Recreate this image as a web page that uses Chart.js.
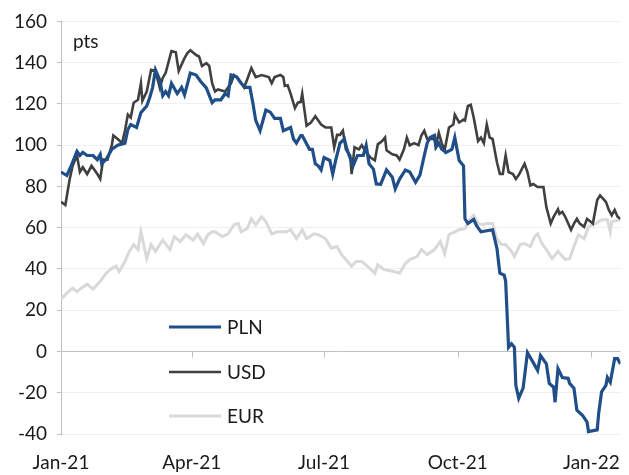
<!DOCTYPE html>
<html>
<head>
<meta charset="utf-8">
<script src="https://cdn.jsdelivr.net/npm/chart.js@4/dist/chart.umd.min.js"></script>
<style>
  html, body { margin: 0; padding: 0; background: #fff; }
  #wrap { width: 629px; height: 475px; position: relative; }
</style>
</head>
<body>
<div id="wrap"><canvas id="chart"></canvas></div>
<script>
// x = days since 1 Jan 2021
const tickDays = [0, 90, 181, 273, 365];
const tickLabels = ['Jan-21', 'Apr-21', 'Jul-21', 'Oct-21', 'Jan-22'];

const seriesNames = ['PLN', 'USD', 'EUR'];

const plnDays = [0, 4, 7, 11, 13, 15, 18, 22, 25, 27, 28, 31, 35, 39, 44, 46, 48, 52, 55, 59,
  61, 63, 65, 68, 70, 72, 74, 76, 80, 83, 85, 89, 93, 96, 100, 104, 106, 110, 113, 115,
  117, 121, 124, 127, 130, 132, 134, 137, 141, 144, 147, 151, 153, 158, 160, 162, 165, 166, 171, 173,
  175, 177, 179, 181, 185, 187, 189, 192, 195, 197, 201, 204, 208, 210, 212, 215, 217, 220, 224, 228,
  230, 233, 237, 240, 244, 247, 250, 252, 254, 257, 258, 260, 262, 265, 269, 271, 274, 277, 278, 280,
  284, 286, 289, 297, 300, 302, 305, 306, 308, 310, 312, 313, 315, 318, 321, 325, 328, 330, 334, 336,
  339, 340, 342, 345, 349, 350, 353, 355, 359, 362, 363, 369, 370, 372, 375, 376, 378, 381, 383, 385];
const plnValues = [87, 85.3, 90, 97, 95, 96.5, 95, 95, 93, 95.5, 91, 93, 98, 100, 101, 107.6, 110, 108.6, 115.8, 119,
  123, 127.8, 136.5, 131.6, 124, 126, 124, 130, 125, 128, 124.4, 135, 134, 131, 127.8, 120.6, 122, 122, 125, 124,
  134, 133, 130, 128, 128, 120.6, 112, 107, 117, 116, 113, 113, 107, 108.6, 103, 101, 104.7, 104.7, 98, 98,
  91, 90, 88, 94, 92.6, 86, 92.6, 101, 103, 97.5, 90, 95, 95, 99.9, 91, 88.4, 81.2, 81, 88, 84.5,
  78.8, 83.6, 88, 87, 82, 85.5, 95, 101, 103.7, 104.7, 99, 101, 98, 96.5, 98, 103.7, 92.6, 90, 64.3, 62,
  64, 61, 58, 59, 50, 38, 37, 34, 2, 3.7, 2, -16.4, -22.7, -17.8, -0.6, -5.4, -9.2, -2, -6, -15.5,
  -17.3, -24.6, -8.3, -12.6, -13, -15.5, -17.8, -28.5, -31, -34.2, -38.8, -38, -30, -19.6, -16.4, -12.6, -14.9, -3.5, -3.5, -6];

const usdDays = [0, 3, 6, 8, 11, 13, 15, 18, 21, 25, 27, 29, 32, 35, 36, 39, 42, 44, 46, 48,
  50, 53, 55, 56, 59, 62, 65, 68, 70, 72, 76, 79, 81, 85, 87, 89, 93, 95, 97, 100,
  102, 104, 106, 108, 113, 117, 119, 121, 126, 128, 131, 134, 138, 143, 145, 147, 151, 153, 154, 156,
  158, 161, 163, 165, 166, 169, 172, 175, 179, 182, 186, 188, 190, 192, 194, 196, 199, 200, 202, 205,
  207, 209, 213, 216, 218, 221, 223, 224, 228, 231, 233, 236, 238, 240, 243, 246, 248, 250, 252, 257,
  258, 260, 262, 264, 267, 270, 271, 274, 277, 278, 280, 282, 284, 287, 289, 291, 293, 295, 297, 300,
  302, 304, 306, 308, 311, 313, 315, 319, 321, 323, 325, 328, 332, 334, 337, 339, 342, 343, 345, 347,
  351, 353, 355, 357, 360, 362, 366, 369, 371, 375, 377, 379, 381, 383, 385];
const usdValues = [72.5, 71, 83.6, 90, 95, 87, 89.3, 86, 90, 86, 83.6, 93, 93, 100, 104.7, 103, 101, 107, 114.8, 113.4,
  120.6, 122, 130, 121.5, 126, 136.5, 136, 127.8, 132.6, 135, 145.6, 145, 136, 142.2, 144.6, 146, 143.7, 143, 138.4, 139.8,
  138.4, 130, 126, 127, 126, 130, 134, 133, 128, 131.6, 137.4, 133, 134, 133, 130, 133, 134, 133, 128.7, 129,
  125, 118, 120.6, 121, 125, 109.5, 111, 114, 110, 108.6, 108.6, 99, 105, 105, 107, 98, 95, 86, 99, 98,
  100, 97.5, 94, 92.6, 100.4, 102, 103.7, 97.5, 95.6, 95, 93, 98, 103.7, 99.9, 101, 100, 104.7, 107, 103, 103,
  99.9, 106, 101, 97.5, 108.6, 110, 114.8, 111, 112.4, 112, 119, 119.6, 113.4, 102, 103.7, 101, 110, 103.7, 103, 91.7,
  86, 86, 95, 87, 86, 83.6, 85.5, 91, 87, 80.5, 81.2, 79.7, 79.7, 70, 62, 65.3, 69, 66.7, 67.7, 65.3,
  59, 62, 64.3, 62, 60.4, 64.3, 62, 73.4, 75.7, 72.5, 68.6, 66, 68.6, 65.3, 64.3];

const eurDays = [0, 4, 8, 11, 14, 18, 22, 27, 31, 35, 38, 40, 44, 47, 50, 53, 55, 59, 62, 65,
  70, 75, 78, 82, 86, 91, 94, 98, 101, 104, 106, 111, 115, 119, 122, 124, 128, 131, 134, 138,
  141, 145, 149, 155, 158, 162, 166, 169, 174, 177, 182, 186, 190, 193, 196, 200, 203, 207, 211, 216,
  218, 222, 229, 233, 237, 240, 245, 248, 252, 257, 261, 264, 267, 271, 274, 278, 281, 284, 287, 290,
  293, 297, 300, 303, 306, 310, 312, 316, 319, 323, 326, 328, 331, 334, 338, 342, 347, 350, 353, 356,
  360, 363, 368, 372, 376, 378, 379, 385];
const eurValues = [25.4, 28.3, 30.7, 29, 30.7, 32.6, 30.2, 34, 37.9, 40.3, 41.3, 38.8, 43.6, 48.5, 51.8, 49.4, 58, 45, 51.8, 48.5,
  54, 49.4, 55.7, 53.3, 56.6, 54, 57, 52.3, 56.6, 58, 58, 55.7, 57, 61.4, 62, 58, 59.5, 64.3, 61.4, 65.3,
  63, 57, 58, 58, 59, 54.7, 59, 54.7, 57, 56.6, 54.7, 50, 50.9, 47, 44.6, 41.3, 43.6, 43.6, 41.3, 37.9,
  42, 39.8, 38.8, 37.9, 42.7, 44.6, 46, 49.4, 47, 49.4, 53.3, 47.5, 56.6, 58, 59, 59.5, 63.8, 66, 62, 61.4,
  62, 62, 54.7, 51.8, 51.8, 48.5, 46, 51.8, 52.3, 50.9, 55.7, 57, 52.3, 49.4, 45, 48.5, 44.6, 45, 50.9, 56.6,
  54.7, 60.4, 62, 63.8, 63.8, 58, 63, 63.8];

const seriesColors = ['#1f4e89', '#404040', '#d9d9d9'];
const seriesWidths = [3.2, 2.6, 3];

const FONT = 'Lato, "Open Sans", sans-serif';
const FONT_SIZE = 19;

function pts(days, vals) {
  return days.map((d, i) => ({ x: d, y: vals[i] }));
}

// zero line ticks, "pts" unit label and the legend inside the plot
const extrasPlugin = {
  id: 'extras',
  afterDraw(chart) {
    const ctx = chart.ctx;
    const xs = chart.scales.x, ys = chart.scales.y;
    const y0 = ys.getPixelForValue(0);
    ctx.save();
    ctx.strokeStyle = '#bfbfbf';
    ctx.lineWidth = 1;
    tickDays.forEach(d => {
      const px = Math.round(xs.getPixelForValue(d)) + 0.5;
      ctx.beginPath();
      ctx.moveTo(px, y0);
      ctx.lineTo(px, y0 + 6);
      ctx.stroke();
    });

    ctx.fillStyle = '#1a1a1a';
    ctx.font = FONT_SIZE + 'px ' + FONT;
    ctx.textBaseline = 'alphabetic';
    ctx.fillText('pts', 73, 48);

    // legend
    const rowY = [327, 372, 416];
    chart.data.datasets.forEach((ds, i) => {
      ctx.strokeStyle = ds.borderColor;
      ctx.lineWidth = ds.borderWidth;
      ctx.beginPath();
      ctx.moveTo(169, rowY[i]);
      ctx.lineTo(221, rowY[i]);
      ctx.stroke();
      ctx.fillStyle = '#1a1a1a';
      ctx.textBaseline = 'middle';
      ctx.fillText(ds.label, 227, rowY[i] + 1);
    });
    ctx.restore();
  }
};

const ctx = document.getElementById('chart').getContext('2d');
new Chart(ctx, {
  type: 'line',
  data: {
    datasets: [
      { label: seriesNames[0], data: pts(plnDays, plnValues) },
      { label: seriesNames[1], data: pts(usdDays, usdValues) },
      { label: seriesNames[2], data: pts(eurDays, eurValues) }
    ].map((ds, i) => Object.assign(ds, {
      borderColor: seriesColors[i],
      borderWidth: seriesWidths[i],
      pointRadius: 0,
      tension: 0,
      fill: false
    }))
  },
  options: {
    responsive: true,
    maintainAspectRatio: false,
    animation: false,
    layout: { padding: { top: 16, right: 4, left: 0, bottom: 0 } },
    plugins: { legend: { display: false }, tooltip: { enabled: false } },
    scales: {
      x: {
        type: 'linear',
        min: 0,
        max: 385,
        afterBuildTicks: (scale) => { scale.ticks = tickDays.map(v => ({ value: v })); },
        afterFit: (scale) => { scale.height = 41; },
        grid: { display: false },
        border: { display: false },
        ticks: {
          padding: 9,
          maxRotation: 0,
          autoSkip: false,
          color: '#1a1a1a',
          font: { family: FONT, size: FONT_SIZE },
          callback: (v) => tickLabels[tickDays.indexOf(v)]
        }
      },
      y: {
        min: -40,
        max: 160,
        afterFit: (scale) => { scale.width = 61; },
        ticks: {
          stepSize: 20,
          padding: 10,
          color: '#1a1a1a',
          font: { family: FONT, size: FONT_SIZE }
        },
        grid: {
          color: (c) => c.tick && c.tick.value === 0 ? '#bfbfbf' : '#efefef',
          tickColor: '#bfbfbf',
          tickLength: 4
        },
        border: { color: '#bfbfbf' }
      }
    }
  },
  plugins: [extrasPlugin]
});
</script>
</body>
</html>
